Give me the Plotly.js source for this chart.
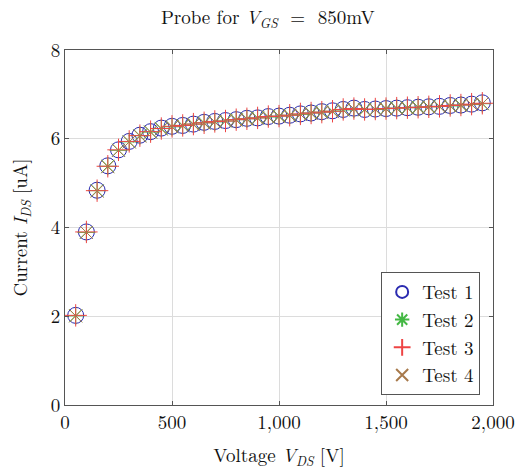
<!DOCTYPE html>
<html>
<head>
<meta charset="utf-8">
<script src="https://cdn.plot.ly/plotly-3.0.1.min.js"></script>
<style>html,body{margin:0;padding:0;background:#fff;}#chart{width:520px;height:472px;}</style>
</head>
<body>
<div id="chart"></div>
<script>
var voltage = [50,100,150,200,250,300,350,400,450,500,550,600,650,700,750,800,850,900,950,1000,1050,1100,1150,1200,1250,1300,1350,1400,1450,1500,1550,1600,1650,1700,1750,1800,1850,1900,1950];
var test1 = [2.02,3.90,4.84,5.39,5.75,5.94,6.08,6.16,6.24,6.28,6.30,6.33,6.37,6.39,6.41,6.43,6.46,6.47,6.50,6.51,6.53,6.56,6.58,6.61,6.63,6.66,6.69,6.66,6.67,6.68,6.69,6.70,6.71,6.72,6.73,6.75,6.76,6.78,6.81];
var test2 = [2.01,3.89,4.83,5.38,5.74,5.93,6.07,6.15,6.23,6.27,6.30,6.33,6.36,6.38,6.40,6.43,6.45,6.47,6.49,6.51,6.53,6.55,6.58,6.60,6.62,6.65,6.67,6.66,6.66,6.68,6.69,6.70,6.71,6.72,6.73,6.74,6.76,6.77,6.79];
var test3 = [2.02,3.90,4.83,5.38,5.75,5.94,6.07,6.16,6.23,6.28,6.30,6.33,6.36,6.39,6.40,6.43,6.45,6.47,6.50,6.51,6.53,6.56,6.58,6.60,6.62,6.66,6.68,6.66,6.67,6.68,6.69,6.70,6.71,6.72,6.73,6.75,6.76,6.78,6.80];
var test4 = [2.01,3.89,4.82,5.37,5.74,5.93,6.06,6.15,6.22,6.27,6.29,6.32,6.35,6.38,6.40,6.42,6.44,6.46,6.49,6.50,6.52,6.55,6.57,6.59,6.61,6.65,6.67,6.65,6.66,6.67,6.68,6.69,6.70,6.71,6.72,6.74,6.75,6.77,6.79];
var names = ["Test 1","Test 2","Test 3","Test 4"];
var xTicks = [0,500,1000,1500,2000];
var xTickText = ["0","500","1,000","1,500","2,000"];
var yTicks = [0,2,4,6,8];

var font = "Latin Modern Roman, CMU Serif, Liberation Serif, DejaVu Serif, serif";
var traces = [
  {x: voltage, y: test1, name: names[0], mode: "markers", type: "scatter",
   marker: {symbol: "circle-open", size: 16, color: "#2b2bb0", line: {width: 1, color: "#2b2bb0"}}},
  {x: voltage, y: test2, name: names[1], mode: "markers", type: "scatter",
   marker: {symbol: "asterisk-open", size: 15, color: "#44b844", line: {width: 1, color: "#44b844"}}},
  {x: voltage, y: test3, name: names[2], mode: "markers", type: "scatter",
   marker: {symbol: "cross-thin-open", size: 16, color: "#ee4444", line: {width: 1, color: "#ee4444"}}},
  {x: voltage, y: test4, name: names[3], mode: "markers", type: "scatter",
   marker: {symbol: "x-thin-open", size: 13, color: "#a87a4c", line: {width: 1, color: "#a87a4c"}}}
];
var layout = {
  width: 520, height: 472,
  margin: {l: 65, r: 27, t: 50, b: 67},
  paper_bgcolor: "#fff", plot_bgcolor: "#fff",
  font: {family: font, size: 19, color: "#111"},
  showlegend: true,
  title: {text: "Probe for <i>V</i><sub><i>GS</i></sub>  =  850mV", x: 0.515, xanchor: "center", y: 0.963, yanchor: "middle", font: {family: font, size: 19}},
  xaxis: {
    range: [0, 2000], tickvals: xTicks, ticktext: xTickText,
    showgrid: true, gridcolor: "#dcdcdc", gridwidth: 1,
    zeroline: false, showline: true, linecolor: "#555", linewidth: 1, mirror: "ticks",
    ticks: "inside", ticklen: 4, tickcolor: "#555",
    tickfont: {family: font, size: 19},
    title: {text: "Voltage <i>V</i><sub><i>DS</i></sub> [V]", font: {family: font, size: 19}, standoff: 14}
  },
  yaxis: {
    range: [0, 8], tickvals: yTicks,
    showgrid: true, gridcolor: "#dcdcdc", gridwidth: 1,
    zeroline: false, showline: true, linecolor: "#555", linewidth: 1, mirror: "ticks",
    ticks: "inside", ticklen: 4, tickcolor: "#555",
    tickfont: {family: font, size: 19},
    title: {text: "Current <i>I</i><sub><i>DS</i></sub> [uA]", font: {family: font, size: 19}, standoff: 18}
  },
  legend: {
    x: 0.97, y: 0.028, xanchor: "right", yanchor: "bottom",
    bgcolor: "#fff", bordercolor: "#555", borderwidth: 1,
    font: {family: font, size: 19}, tracegroupgap: 0, itemsizing: "constant"
  }
};
Plotly.newPlot("chart", traces, layout, {displayModeBar: false, staticPlot: true});
</script>
</body>
</html>
